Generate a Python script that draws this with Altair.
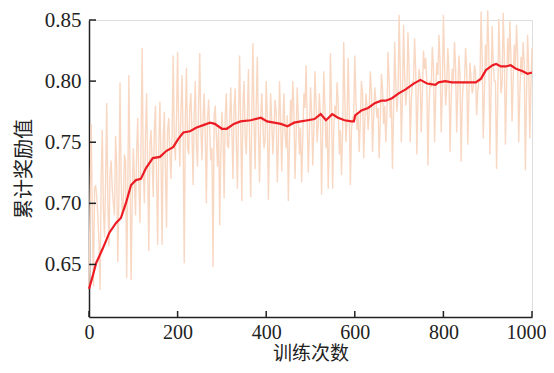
import altair as alt
import pandas as pd

# raw (noisy) reward per training step, read every 5 iterations
raw_x = list(range(0, 1001, 5))
raw_y = [
    0.630, 0.765, 0.632, 0.715, 0.690, 0.629, 0.760, 0.672, 0.782, 0.665,
    0.735, 0.700, 0.755, 0.652, 0.799, 0.690, 0.740, 0.639, 0.805, 0.637,
    0.745, 0.690, 0.770, 0.684, 0.827, 0.700, 0.790, 0.661, 0.760, 0.705,
    0.780, 0.666, 0.783, 0.666, 0.775, 0.680, 0.770, 0.720, 0.821, 0.735,
    0.824, 0.730, 0.805, 0.651, 0.811, 0.740, 0.790, 0.715, 0.800, 0.730,
    0.823, 0.735, 0.790, 0.700, 0.785, 0.735, 0.648, 0.780, 0.730, 0.682,
    0.775, 0.704, 0.790, 0.745, 0.795, 0.720, 0.794, 0.712, 0.821, 0.702,
    0.800, 0.740, 0.810, 0.705, 0.831, 0.728, 0.820, 0.717, 0.790, 0.745,
    0.800, 0.703, 0.790, 0.740, 0.785, 0.717, 0.800, 0.726, 0.790, 0.745,
    0.702, 0.785, 0.800, 0.720, 0.795, 0.740, 0.717, 0.790, 0.813, 0.725,
    0.795, 0.731, 0.808, 0.750, 0.790, 0.707, 0.808, 0.745, 0.712, 0.823,
    0.712, 0.780, 0.799, 0.740, 0.723, 0.832, 0.750, 0.819, 0.715, 0.770,
    0.821, 0.760, 0.742, 0.800, 0.737, 0.790, 0.760, 0.808, 0.742, 0.795,
    0.770, 0.737, 0.806, 0.765, 0.750, 0.824, 0.770, 0.728, 0.832, 0.775,
    0.854, 0.750, 0.846, 0.780, 0.840, 0.750, 0.800, 0.835, 0.740, 0.810,
    0.758, 0.825, 0.819, 0.731, 0.800, 0.828, 0.750, 0.815, 0.838, 0.758,
    0.854, 0.780, 0.827, 0.742, 0.810, 0.832, 0.758, 0.821, 0.734, 0.800,
    0.827, 0.748, 0.815, 0.790, 0.813, 0.772, 0.800, 0.857, 0.753, 0.830,
    0.858, 0.740, 0.845, 0.800, 0.728, 0.851, 0.790, 0.856, 0.748, 0.835,
    0.849, 0.767, 0.830, 0.846, 0.750, 0.820, 0.832, 0.727, 0.838, 0.753,
    0.827,
]

# raw reward in between (iterations 2.5, 7.5, ...), mostly in the dense core
mid_x = [i * 5 + 2.5 for i in range(200)]
mid_y = [
    0.700, 0.690, 0.712, 0.705, 0.668, 0.722, 0.695, 0.718, 0.700, 0.725,
    0.712, 0.690, 0.730, 0.705, 0.720, 0.698, 0.735, 0.710, 0.728, 0.702,
    0.720, 0.742, 0.715, 0.750, 0.730, 0.755, 0.725, 0.748, 0.735, 0.760,
    0.722, 0.745, 0.738, 0.752, 0.728, 0.760, 0.742, 0.755, 0.750, 0.770,
    0.760, 0.775, 0.752, 0.770, 0.745, 0.778, 0.758, 0.772, 0.748, 0.780,
    0.762, 0.770, 0.755, 0.768, 0.760, 0.745, 0.772, 0.755, 0.762, 0.740,
    0.755, 0.772, 0.748, 0.768, 0.760, 0.778, 0.752, 0.770, 0.762, 0.780,
    0.755, 0.772, 0.750, 0.775, 0.765, 0.782, 0.758, 0.770, 0.765, 0.752,
    0.770, 0.755, 0.768, 0.760, 0.775, 0.748, 0.768, 0.762, 0.758, 0.772,
    0.750, 0.765, 0.775, 0.755, 0.770, 0.762, 0.752, 0.778, 0.768, 0.758,
    0.775, 0.760, 0.782, 0.765, 0.772, 0.758, 0.780, 0.768, 0.755, 0.778,
    0.762, 0.770, 0.782, 0.760, 0.758, 0.785, 0.768, 0.775, 0.760, 0.772,
    0.785, 0.772, 0.768, 0.790, 0.765, 0.780, 0.775, 0.792, 0.770, 0.785,
    0.778, 0.768, 0.795, 0.780, 0.772, 0.800, 0.785, 0.775, 0.798, 0.788,
    0.810, 0.785, 0.805, 0.792, 0.812, 0.782, 0.798, 0.808, 0.785, 0.802,
    0.790, 0.810, 0.800, 0.778, 0.795, 0.812, 0.788, 0.805, 0.815, 0.790,
    0.815, 0.795, 0.808, 0.785, 0.800, 0.812, 0.790, 0.805, 0.782, 0.798,
    0.810, 0.788, 0.802, 0.795, 0.808, 0.792, 0.800, 0.820, 0.790, 0.812,
    0.825, 0.790, 0.815, 0.800, 0.782, 0.820, 0.798, 0.822, 0.792, 0.812,
    0.818, 0.800, 0.810, 0.822, 0.788, 0.805, 0.815, 0.785, 0.812, 0.795,
]

# smoothed (cumulative average) reward
avg_x = [0, 8, 16, 31, 46, 61, 72, 84, 95, 106, 117, 129, 144, 160, 175, 190,
         202, 213, 228, 243, 258, 273, 284, 300, 311, 327, 342, 365, 388, 402,
         418, 433, 448, 463, 478, 494, 509, 523, 535, 549, 562, 577, 592, 598,
         601, 615, 630, 645, 660, 670, 684, 699, 714, 733, 748, 763, 782, 789,
         804, 819, 837, 858, 873, 885, 896, 911, 919, 930, 941, 952, 964, 979,
         990, 1000]
avg_y = [0.630, 0.640, 0.651, 0.663, 0.676, 0.684, 0.688, 0.701, 0.715, 0.719,
         0.720, 0.729, 0.737, 0.738, 0.743, 0.746, 0.753, 0.758, 0.759, 0.762,
         0.764, 0.766, 0.765, 0.761, 0.761, 0.765, 0.767, 0.768, 0.770, 0.767,
         0.766, 0.765, 0.763, 0.766, 0.767, 0.768, 0.769, 0.773, 0.768, 0.773,
         0.770, 0.768, 0.767, 0.767, 0.772, 0.776, 0.778, 0.782, 0.784, 0.784,
         0.786, 0.790, 0.793, 0.798, 0.801, 0.798, 0.797, 0.799, 0.800, 0.799,
         0.799, 0.799, 0.799, 0.802, 0.809, 0.813, 0.814, 0.812, 0.812, 0.813,
         0.810, 0.808, 0.806, 0.807]

x_ticks = [0, 200, 400, 600, 800, 1000]
y_ticks = [0.65, 0.70, 0.75, 0.80, 0.85]

raw_df = pd.concat([
    pd.DataFrame({"x": raw_x, "y": raw_y}),
    pd.DataFrame({"x": mid_x, "y": mid_y}),
]).sort_values("x").reset_index(drop=True)
avg_df = pd.DataFrame({"x": avg_x, "y": avg_y})
xt_df = pd.DataFrame({"x": x_ticks})
yt_df = pd.DataFrame({"y": y_ticks})

W, H = 443, 297
xs = alt.Scale(domain=[0, 1000], nice=False, zero=False)
ys = alt.Scale(domain=[0.607, 0.85], nice=False, zero=False)

serif = "Liberation Serif, Times New Roman, serif"
cjk = "Noto Sans CJK SC"

x_axis = alt.Axis(values=x_ticks, format="d", title="训练次数", grid=False,
                  ticks=False, labelFont=serif, labelFontSize=20,
                  labelColor="#222", labelPadding=5, titleFont=cjk,
                  titleFontSize=19, titleFontWeight="normal",
                  titleColor="#222", titlePadding=2, domainColor="#222",
                  domainWidth=1.5, labelFlush=False,
                  labelOffset={"condition": {"test": "datum.value == 1000",
                                             "value": -6}, "value": 0})
y_axis = alt.Axis(values=y_ticks, format=".2f", title="累计奖励值", grid=False,
                  ticks=False, labelFont=serif, labelFontSize=21,
                  labelColor="#222", labelPadding=8, titleFont=cjk,
                  titleFontSize=20, titleFontWeight="normal",
                  titleColor="#222", titlePadding=10, domainColor="#222",
                  domainWidth=1.5)

raw_line = alt.Chart(raw_df).mark_line(color="#f9d8c3", strokeWidth=1.4).encode(
    x=alt.X("x:Q", scale=xs, axis=x_axis),
    y=alt.Y("y:Q", scale=ys, axis=y_axis),
    order="x:Q",
)
avg_line = alt.Chart(avg_df).mark_line(color="#ec1c24", strokeWidth=2.2).encode(
    x=alt.X("x:Q", scale=xs),
    y=alt.Y("y:Q", scale=ys),
)
xtick = alt.Chart(xt_df).mark_rule(color="#222", strokeWidth=1.5).encode(
    x=alt.X("x:Q", scale=xs),
    y=alt.value(H), y2=alt.value(H - 6),
)
ytick = alt.Chart(yt_df).mark_rule(color="#222", strokeWidth=1.5).encode(
    y=alt.Y("y:Q", scale=ys),
    x=alt.value(0), x2=alt.value(7),
)

chart = alt.layer(raw_line, avg_line, xtick, ytick).properties(
    width=W, height=H,
    autosize=alt.AutoSizeParams(type="none"),
    padding={"left": 81, "top": 12, "right": 14, "bottom": 48},
).configure_view(stroke=None).configure(background="white", font=serif)

chart.save("out.html", embed_options={"renderer": "svg", "actions": False})
